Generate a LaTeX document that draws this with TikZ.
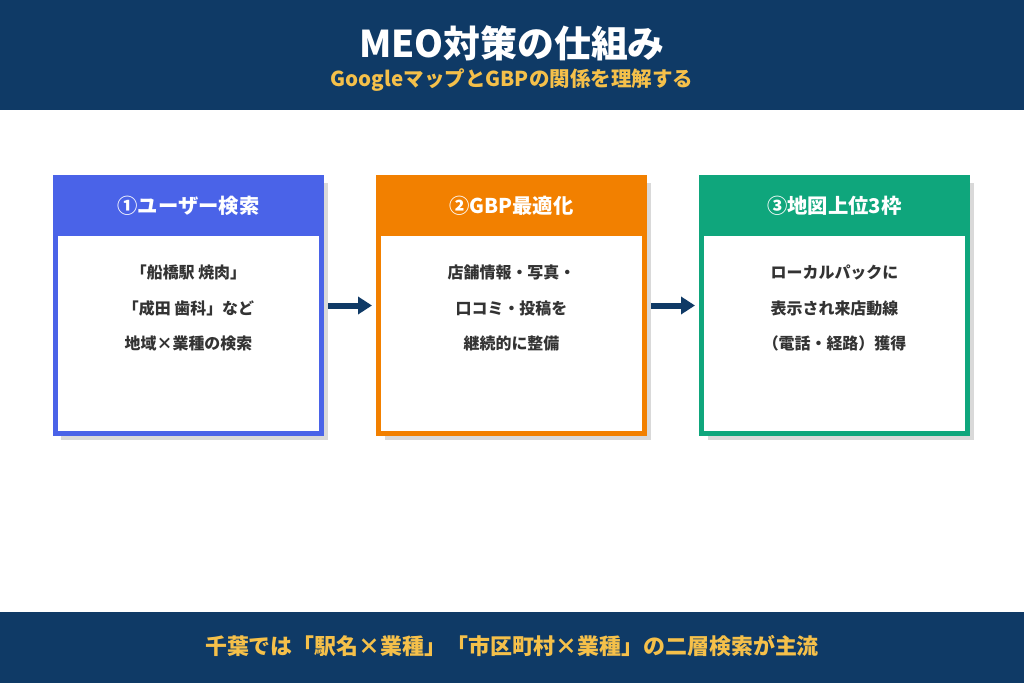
\documentclass[tikz,border=0pt]{standalone}
\usepackage{fontspec}
\setmainfont{Noto Sans CJK JP}
\usetikzlibrary{positioning, arrows.meta, shadows}

\definecolor{navyband}{HTML}{0F3A66}
\definecolor{goldtext}{HTML}{F5C04A}
\definecolor{stepblue}{HTML}{4A63E8}
\definecolor{steporange}{HTML}{F28000}
\definecolor{stepgreen}{HTML}{0FA67C}
\definecolor{bodygray}{HTML}{333333}
\definecolor{shadowgray}{HTML}{D9D9D9}

\begin{document}
\begin{tikzpicture}[x=1bp, y=-1bp]
		% Style
		\tikzset{
			panel/.style={draw=#1, line width=5bp, fill=white, minimum width=266bp, minimum height=256bp, inner sep=0pt,
				drop shadow={shadow xshift=6bp, shadow yshift=-6bp, fill=shadowgray, opacity=1}},
			headbar/.style={fill=#1, minimum width=271bp, minimum height=61bp, inner sep=0pt, text=white, font=\fontsize{20.4}{24}\selectfont\bfseries},
			bodytext/.style={align=center, text=bodygray, font=\fontsize{16}{35.5}\selectfont\bfseries},
			flow/.style={-{Triangle[length=14bp, width=17bp]}, line width=6bp, navyband, shorten <=4bp, shorten >=4bp}
		}
		
		% Background and frame
		\fill[white] (0,0) rectangle (1024,683);
		\useasboundingbox (0,0) rectangle (1024,683);
		
		% Top band with title
		\fill[navyband] (0,0) rectangle (1024,110);
		\node[text=white, font=\fontsize{37}{42}\selectfont\bfseries] (Title) at (512,43) {MEO対策の仕組み};
		\node[text=goldtext, font=\fontsize{20.6}{24}\selectfont\bfseries] (Subtitle) at (512,80) {GoogleマップとGBPの関係を理解する};
		
		% Step 1: user search
		\node[panel=stepblue] (Search) at (188.5,305.5) {};
		\node[headbar=stepblue] (Search_Head) at (188.5,205.5) {①ユーザー検索};
		\node[bodytext] (Search_Text) at (188.5,308) {「船橋駅 焼肉」\\「成田 歯科」など\\地域×業種の検索};
		
		% Step 2: GBP optimisation
		\node[panel=steporange] (Optimize) at (511.5,305.5) {};
		\node[headbar=steporange] (Optimize_Head) at (511.5,205.5) {②GBP最適化};
		\node[bodytext] (Optimize_Text) at (511.5,308) {店舗情報・写真・\\口コミ・投稿を\\継続的に整備};
		
		% Step 3: top 3 on the map
		\node[panel=stepgreen] (Ranking) at (834.5,305.5) {};
		\node[headbar=stepgreen] (Ranking_Head) at (834.5,205.5) {③地図上位3枠};
		\node[bodytext] (Ranking_Text) at (834.5,308) {ローカルパックに\\表示され来店動線\\（電話・経路）獲得};
		
		% Arrows between the steps
		\draw[flow] (Search) -- (Optimize);
		\draw[flow] (Optimize) -- (Ranking);
		
		% Bottom band with note
		\fill[navyband] (0,612) rectangle (1024,683);
		\node[text=goldtext, font=\fontsize{22}{26}\selectfont\bfseries] (Footnote) at (512,646) {千葉では「駅名×業種」「市区町村×業種」の二層検索が主流};
		
	\end{tikzpicture}
\end{document}
